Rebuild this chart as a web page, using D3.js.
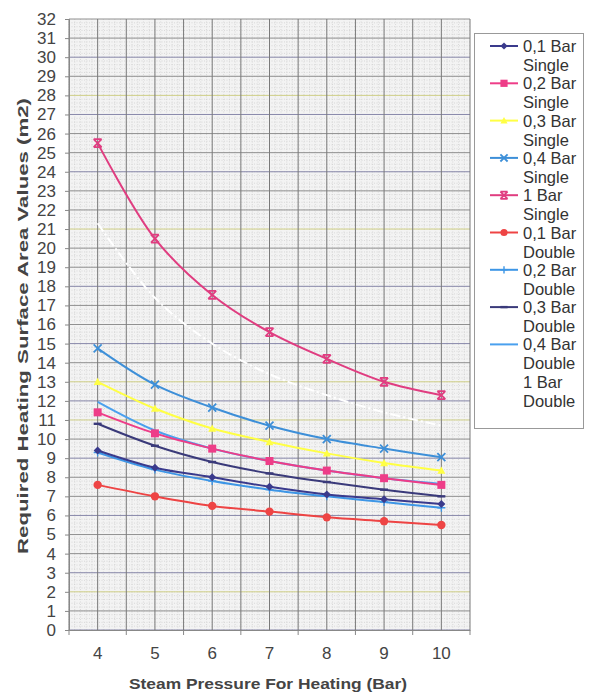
<!DOCTYPE html>
<html>
<head>
<meta charset="utf-8">
<script src="https://cdn.jsdelivr.net/npm/d3@7"></script>
<style>
  html, body { margin: 0; padding: 0; background: #fff; }
  svg text { font-family: Arial, "Liberation Sans", sans-serif; }
</style>
</head>
<body>
<svg id="chart" width="595" height="693"></svg>
<script>
// Steam pressure categories (Bar)
const pressures = [4, 5, 6, 7, 8, 9, 10];
const yTicks = d3.range(0, 33);

// Required heating surface area (m2) per configuration
const bar01Single = [9.4, 8.5, 8.0, 7.5, 7.1, 6.85, 6.6];
const bar02Single = [11.4, 10.3, 9.5, 8.85, 8.35, 7.95, 7.6];
const bar03Single = [13.0, 11.6, 10.55, 9.85, 9.25, 8.75, 8.35];
const bar04Single = [14.75, 12.85, 11.65, 10.7, 10.0, 9.5, 9.05];
const bar1Single  = [25.5, 20.5, 17.55, 15.6, 14.2, 13.0, 12.3];
const bar01Double = [7.6, 7.0, 6.5, 6.2, 5.9, 5.7, 5.5];
const bar02Double = [9.3, 8.4, 7.8, 7.35, 7.0, 6.7, 6.4];
const bar03Double = [10.8, 9.65, 8.8, 8.2, 7.75, 7.35, 7.0];
const bar04Double = [11.95, 10.45, 9.5, 8.85, 8.35, 7.95, 7.65];
const bar1Double  = [21.3, 17.4, 15.0, 13.4, 12.3, 11.4, 10.7];

const seriesNames = [
  ["0,1 Bar", "Single"], ["0,2 Bar", "Single"], ["0,3 Bar", "Single"],
  ["0,4 Bar", "Single"], ["1 Bar", "Single"], ["0,1 Bar", "Double"],
  ["0,2 Bar", "Double"], ["0,3 Bar", "Double"], ["0,4 Bar", "Double"],
  ["1 Bar", "Double"]
];
const seriesValues = [bar01Single, bar02Single, bar03Single, bar04Single, bar1Single,
                      bar01Double, bar02Double, bar03Double, bar04Double, bar1Double];
const seriesColors = ["#3a3a8c", "#ee3d88", "#ffff44", "#3d8fd8", "#e03d80",
                      "#ee4444", "#3d96e6", "#3a3a7a", "#4aa0ee", "#ffffff"];
const seriesMarkers = ["diamond", "square", "triangle", "x", "star",
                       "circle", "plus", "dash", "none", "none"];

const svg = d3.select("#chart");
const m = { left: 69, right: 470, top: 19, bottom: 630 };

const x = d3.scaleBand().domain(pressures).range([m.left, m.right]);
const y = d3.scaleLinear().domain([0, 32]).range([m.bottom, m.top]);

// Plot background (graph-paper look)
svg.append("rect")
  .attr("x", m.left).attr("y", m.top)
  .attr("width", m.right - m.left).attr("height", m.bottom - m.top)
  .attr("fill", "#f3f3f3");

const grid = svg.append("g");
const bw = x.bandwidth();

// Fine paper texture
d3.range(0, 32, 0.2).forEach(v => {
  grid.append("line")
    .attr("x1", m.left).attr("x2", m.right)
    .attr("y1", y(v)).attr("y2", y(v))
    .attr("stroke", "#c8c8c8").attr("stroke-width", 0.6)
    .attr("stroke-dasharray", "1,1.5");
});
d3.range(0, 70).forEach(i => {
  const xx = m.left + i * bw / 10;
  grid.append("line")
    .attr("x1", xx).attr("x2", xx)
    .attr("y1", m.top).attr("y2", m.bottom)
    .attr("stroke", "#c8c8c8").attr("stroke-width", 0.6)
    .attr("stroke-dasharray", "1,1.5");
});

// Horizontal major lines at each integer
const yellowRows = [2, 11, 13, 21, 28];
const hColor = v => (yellowRows.includes(v) ? "#d0d088" : (v % 3 === 0 ? "#8888aa" : "#909090"));
yTicks.forEach(v => {
  grid.append("line")
    .attr("x1", m.left).attr("x2", m.right)
    .attr("y1", y(v)).attr("y2", y(v))
    .attr("stroke", hColor(v)).attr("stroke-width", 1);
});

// Vertical lines at category centres and boundaries
pressures.forEach(p => {
  [x(p), x(p) + bw / 2].forEach(xx => {
    grid.append("line")
      .attr("x1", xx).attr("x2", xx)
      .attr("y1", m.top).attr("y2", m.bottom)
      .attr("stroke", "#7a7a7a").attr("stroke-width", 1);
  });
});
grid.append("line")
  .attr("x1", m.right).attr("x2", m.right)
  .attr("y1", m.top).attr("y2", m.bottom)
  .attr("stroke", "#7a7a7a");

// Axes
const yAxis = d3.axisLeft(y).tickValues(yTicks).tickSize(4).tickPadding(9);
const yg = svg.append("g").attr("transform", `translate(${m.left},0)`).call(yAxis);
yg.select(".domain").attr("stroke", "#888");
yg.selectAll(".tick line").attr("stroke", "#888");
yg.selectAll("text").attr("font-size", 17).attr("fill", "#444");

const xAxis = d3.axisBottom(x).tickSize(0).tickPadding(17);
const xg = svg.append("g").attr("transform", `translate(0,${m.bottom})`).call(xAxis);
xg.select(".domain").attr("stroke", "#888");
xg.selectAll("text").attr("font-size", 17).attr("fill", "#444");
pressures.concat(["end"]).forEach((p, i) => {
  const xx = m.left + i * bw;
  xg.append("line").attr("x1", xx).attr("x2", xx).attr("y1", 0).attr("y2", 5).attr("stroke", "#888");
});

// Axis titles
svg.append("text")
  .attr("x", 268).attr("y", 689)
  .attr("text-anchor", "middle")
  .attr("font-size", 15).attr("font-weight", "bold").attr("fill", "#444")
  .attr("textLength", 278).attr("lengthAdjust", "spacingAndGlyphs")
  .text("Steam Pressure For Heating (Bar)");
svg.append("text")
  .attr("transform", "translate(28,326) rotate(-90)")
  .attr("text-anchor", "middle")
  .attr("font-size", 15).attr("font-weight", "bold").attr("fill", "#444")
  .attr("textLength", 456).attr("lengthAdjust", "spacingAndGlyphs")
  .text("Required Heating Surface Area Values (m2)");

// Marker drawing
function drawMarker(g, type, color, size) {
  const s = size;
  switch (type) {
    case "diamond":
      g.append("path").attr("d", `M0,${-s}L${s},0L0,${s}L${-s},0Z`).attr("fill", color);
      break;
    case "square":
      g.append("rect").attr("x", -s).attr("y", -s).attr("width", 2 * s).attr("height", 2 * s).attr("fill", color);
      break;
    case "triangle":
      g.append("path").attr("d", `M0,${-s}L${s},${s * 0.8}L${-s},${s * 0.8}Z`).attr("fill", color);
      break;
    case "x":
      g.append("path").attr("d", `M${-s},${-s}L${s},${s}M${-s},${s}L${s},${-s}`)
        .attr("stroke", color).attr("stroke-width", 1.8);
      break;
    case "star":
      g.append("path").attr("d", `M${-s},${-s}L${s},${s}M${-s},${s}L${s},${-s}M${-s},${-s}L${s},${-s}M${-s},${s}L${s},${s}`)
        .attr("stroke", color).attr("stroke-width", 1.8);
      break;
    case "circle":
      g.append("circle").attr("r", s).attr("fill", color);
      break;
    case "plus":
      g.append("path").attr("d", `M0,${-s}L0,${s}M${-s},0L${s},0`)
        .attr("stroke", color).attr("stroke-width", 1.4);
      break;
    case "dash":
      g.append("path").attr("d", `M${-s},0L${s},0`).attr("stroke", color).attr("stroke-width", 2.4);
      break;
  }
}

const cx = p => x(p) + bw / 2;
const line = d3.line().x((d, i) => cx(pressures[i])).y(d => y(d)).curve(d3.curveCatmullRom.alpha(0.5));

// Draw series in reverse order so the first series sits on top
const plot = svg.append("g");
seriesValues.map((vals, i) => ({ vals, i })).reverse().forEach(({ vals, i }) => {
  const color = seriesColors[i];
  plot.append("path")
    .datum(vals)
    .attr("d", line)
    .attr("fill", "none")
    .attr("stroke", color)
    .attr("stroke-width", 2)
    .attr("stroke-dasharray", i === 9 ? "10,3,2,3" : null);
  if (seriesMarkers[i] !== "none") {
    vals.forEach((v, j) => {
      const g = plot.append("g").attr("transform", `translate(${cx(pressures[j])},${y(v)})`);
      drawMarker(g, seriesMarkers[i], color, seriesMarkers[i] === "circle" ? 4.2 : 4);
    });
  }
});

// Legend
const legend = svg.append("g");
legend.append("rect")
  .attr("x", 474.5).attr("y", 33.5).attr("width", 109).attr("height", 395)
  .attr("fill", "#fff").attr("stroke", "#999");
seriesNames.forEach((name, i) => {
  const top = 46 + i * 37.3;
  const g = legend.append("g").attr("transform", `translate(0,${top})`);
  const color = seriesColors[i];
  if (i !== 9) {
    g.append("line").attr("x1", 490).attr("x2", 518).attr("y1", 0).attr("y2", 0)
      .attr("stroke", color).attr("stroke-width", 2);
    if (seriesMarkers[i] !== "none") {
      const mg = g.append("g").attr("transform", "translate(504,0)");
      drawMarker(mg, seriesMarkers[i], color, 3.6);
    }
  }
  g.append("text").attr("x", 523).attr("y", 6)
    .attr("font-size", 16.5).attr("fill", "#333").text(name[0]);
  g.append("text").attr("x", 523).attr("y", 25)
    .attr("font-size", 16.5).attr("fill", "#333").text(name[1]);
});
</script>
</body>
</html>
